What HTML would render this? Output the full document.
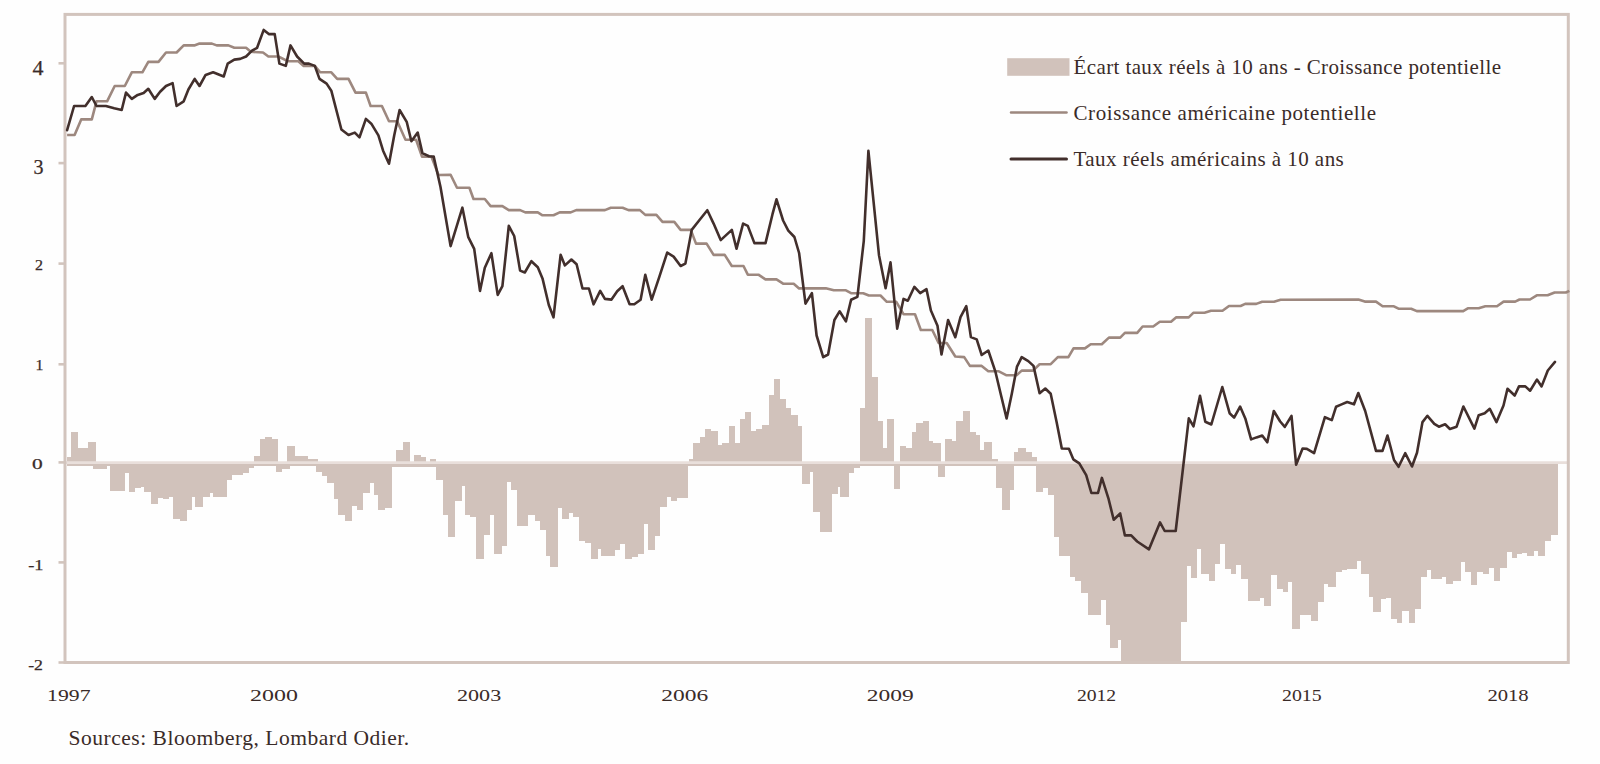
<!DOCTYPE html>
<html><head><meta charset="utf-8">
<style>
html,body{margin:0;padding:0;background:#fefefe;}
body{width:1600px;height:764px;overflow:hidden;position:relative;font-family:"Liberation Serif",serif;color:#3a2b28;}
svg{position:absolute;left:0;top:0;}
.t{position:absolute;white-space:nowrap;line-height:1;}
</style></head><body>
<svg width="1600" height="764" viewBox="0 0 1600 764">
<path d="M66.5 456.7 L71.2 456.7 L71.2 432.2 L78 432.2 L78 447.8 L88.1 447.8 L88.1 441.6 L95.7 441.6 L95.7 461.5 L253.7 461.5 L253.7 456.4 L260 456.4 L260 438.7 L265.1 438.7 L265.1 436.5 L272.3 436.5 L272.3 438.7 L278.3 438.7 L278.3 461.5 L287 461.5 L287 445.9 L294.6 445.9 L294.6 456.4 L307.6 456.4 L307.6 459.3 L318.1 459.3 L318.1 461.5 L396.1 461.5 L396.1 450.2 L402.6 450.2 L402.6 441.6 L409.8 441.6 L409.8 461.5 L414.1 461.5 L414.1 454.5 L420.6 454.5 L420.6 456.7 L425.6 456.7 L425.6 461.5 L430 461.5 L430 459.3 L436.4 459.3 L436.4 461.5 L688.5 461.5 L688.5 459.4 L693 459.4 L693 443.4 L699.6 443.4 L699.6 436.7 L704.5 436.7 L704.5 429 L710.7 429 L710.7 430.5 L717.9 430.5 L717.9 444.5 L722.3 444.5 L722.3 443 L728.5 443 L728.5 425.6 L735.2 425.6 L735.2 443.4 L739.7 443.4 L739.7 418.9 L744.6 418.9 L744.6 412.3 L751.2 412.3 L751.2 431.2 L755.7 431.2 L755.7 429 L761.9 429 L761.9 425.2 L768.6 425.2 L768.6 394.5 L773.5 394.5 L773.5 378.9 L779.7 378.9 L779.7 398.9 L786.4 398.9 L786.4 407.8 L791.3 407.8 L791.3 414.5 L798 414.5 L798 425.6 L802.4 425.6 L802.4 461.5 L859.9 461.5 L859.9 408.3 L864.9 408.3 L864.9 317.5 L871.8 317.5 L871.8 376.7 L877.8 376.7 L877.8 420.7 L882.8 420.7 L882.8 448.1 L887.2 448.1 L887.2 419 L894.2 419 L894.2 461.5 L900.2 461.5 L900.2 445.6 L905.9 445.6 L905.9 448.1 L911.6 448.1 L911.6 431.9 L915.8 431.9 L915.8 423.2 L923.3 423.2 L923.3 420.7 L929 420.7 L929 441.1 L933.4 441.1 L933.4 443.4 L940.6 443.4 L940.6 461.5 L944.5 461.5 L944.5 438.5 L952.1 438.5 L952.1 440.5 L956.4 440.5 L956.4 420.7 L963.1 420.7 L963.1 410.7 L969.8 410.7 L969.8 432.4 L975.5 432.4 L975.5 434.9 L980 434.9 L980 449.9 L984.2 449.9 L984.2 441.6 L992.4 441.6 L992.4 459.4 L998 459.4 L998 461.5 L1013.5 461.5 L1013.5 451.5 L1018.2 451.5 L1018.2 448.2 L1025.5 448.2 L1025.5 451.5 L1031.8 451.5 L1031.8 456.8 L1037.1 456.8 L1037.1 461.5 L1558.3 461.5 L1558.3 534.5 L1551.4 534.5 L1551.4 541 L1544.6 541 L1544.6 556.1 L1537.7 556.1 L1537.7 550.8 L1533.8 550.8 L1533.8 556.1 L1526.9 556.1 L1526.9 552.8 L1522 552.8 L1522 554.1 L1516.7 554.1 L1516.7 558.1 L1511.6 558.1 L1511.6 552.2 L1507.3 552.2 L1507.3 567.9 L1500.4 567.9 L1500.4 580.6 L1493.5 580.6 L1493.5 567.9 L1488.6 567.9 L1488.6 573.8 L1482.7 573.8 L1482.7 572.4 L1477.4 572.4 L1477.4 584.6 L1471 584.6 L1471 571.8 L1465.1 571.8 L1465.1 562 L1460.5 562 L1460.5 580.6 L1453.3 580.6 L1453.3 583.6 L1446.4 583.6 L1446.4 576.7 L1441.5 576.7 L1441.5 578.7 L1431.1 578.7 L1431.1 569.8 L1426.8 569.8 L1426.8 576.7 L1420.5 576.7 L1420.5 609.2 L1415.3 609.2 L1415.3 622.9 L1408.6 622.9 L1408.6 610.5 L1402.1 610.5 L1402.1 622.9 L1396.6 622.9 L1396.6 619.2 L1391.2 619.2 L1391.2 598 L1386.2 598 L1386.2 598.8 L1380.5 598.8 L1380.5 611.7 L1373 611.7 L1373 596.8 L1368.8 596.8 L1368.8 574.4 L1360.6 574.4 L1360.6 560.7 L1356.8 560.7 L1356.8 568.9 L1346.9 568.9 L1346.9 569.9 L1341.9 569.9 L1341.9 571.9 L1335.7 571.9 L1335.7 586.8 L1328.2 586.8 L1328.2 584.4 L1324 584.4 L1324 601.8 L1317.5 601.8 L1317.5 621.2 L1310.8 621.2 L1310.8 614.7 L1299.6 614.7 L1299.6 629.1 L1292.2 629.1 L1292.2 581.9 L1287.7 581.9 L1287.7 592.3 L1282.7 592.3 L1282.7 589.3 L1277.2 589.3 L1277.2 574.9 L1271 574.9 L1271 605.5 L1264.3 605.5 L1264.3 598 L1259.8 598 L1259.8 600.5 L1247.9 600.5 L1247.9 579.4 L1241.2 579.4 L1241.2 564.5 L1236.2 564.5 L1236.2 573.9 L1231.2 573.9 L1231.2 569.4 L1225 569.4 L1225 543.8 L1219.6 543.8 L1219.6 563.8 L1214.6 563.8 L1214.6 580.9 L1208.6 580.9 L1208.6 574 L1200.9 574 L1200.9 549.3 L1197 549.3 L1197 578.1 L1190.7 578.1 L1190.7 565.8 L1187.1 565.8 L1187.1 622.1 L1181.1 622.1 L1181.1 662 L1120.7 662 L1120.7 640 L1117.9 640 L1117.9 648.2 L1110.2 648.2 L1110.2 624.8 L1105.5 624.8 L1105.5 600.1 L1101.4 600.1 L1101.4 615.2 L1087.7 615.2 L1087.7 593.2 L1080.8 593.2 L1080.8 580.9 L1075.3 580.9 L1075.3 576.8 L1069.8 576.8 L1069.8 556.2 L1058.8 556.2 L1058.8 536.9 L1054.3 536.9 L1054.3 494.5 L1048.1 494.5 L1048.1 488.2 L1043.4 488.2 L1043.4 491.8 L1036 491.8 L1036 465.5 L1014 465.5 L1014 489.7 L1009.8 489.7 L1009.8 509.6 L1002 509.6 L1002 487.6 L995.7 487.6 L995.7 465.5 L944.9 465.5 L944.9 476.5 L938 476.5 L938 466 L900.2 466 L900.2 489.1 L894.2 489.1 L894.2 466 L859.9 466 L859.9 468 L853.7 468 L853.7 473 L848.7 473 L848.7 496.6 L839.5 496.6 L839.5 486.6 L838.4 486.6 L838.4 493.5 L831.8 493.5 L831.8 532.4 L819.8 532.4 L819.8 512.4 L813.1 512.4 L813.1 472.3 L809.5 472.3 L809.5 483.5 L802.4 483.5 L802.4 466 L688.3 466 L688.3 498.3 L677.1 498.3 L677.1 500.6 L670.6 500.6 L670.6 497.1 L666.5 497.1 L666.5 507.1 L659.5 507.1 L659.5 535.9 L655.3 535.9 L655.3 549.5 L648 549.5 L648 524.2 L643.6 524.2 L643.6 554.2 L637.7 554.2 L637.7 556.6 L631.8 556.6 L631.8 558.9 L625.3 558.9 L625.3 543.6 L619.7 543.6 L619.7 550.1 L615 550.1 L615 556.3 L600.8 556.3 L600.8 549.3 L597.7 549.3 L597.7 558.7 L590.6 558.7 L590.6 543 L585.1 543 L585.1 541.1 L578.8 541.1 L578.8 517.1 L572.5 517.1 L572.5 513.1 L568.6 513.1 L568.6 518.6 L561.5 518.6 L561.5 508.4 L557.6 508.4 L557.6 567.3 L549.8 567.3 L549.8 555.5 L545.5 555.5 L545.5 530.4 L539.6 530.4 L539.6 521 L534.8 521 L534.8 514.7 L527.8 514.7 L527.8 525.7 L516.8 525.7 L516.8 490.3 L510.5 490.3 L510.5 481.7 L506.6 481.7 L506.6 546.1 L501.8 546.1 L501.8 554 L494 554 L494 514.7 L490.1 514.7 L490.1 535.1 L483.8 535.1 L483.8 558.7 L475.9 558.7 L475.9 517.1 L470.4 517.1 L470.4 514.7 L464.9 514.7 L464.9 486.4 L461.8 486.4 L461.8 501.3 L454.7 501.3 L454.7 536.7 L447.9 536.7 L447.9 515 L442.9 515 L442.9 480.4 L436.4 480.4 L436.4 466.8 L391.5 466.8 L391.5 507.8 L385.3 507.8 L385.3 510 L378.1 510 L378.1 494.8 L374.2 494.8 L374.2 483.3 L370.2 483.3 L370.2 492.7 L363.3 492.7 L363.3 510 L356.5 510 L356.5 506.4 L352.2 506.4 L352.2 520.8 L345 520.8 L345 515 L338.2 515 L338.2 499.2 L333.5 499.2 L333.5 483.3 L327 483.3 L327 476.1 L322 476.1 L322 471.8 L315.5 471.8 L315.5 466 L289.6 466 L289.6 468.9 L281.6 468.9 L281.6 471.8 L275.9 471.8 L275.9 466 L253.7 466 L253.7 467.5 L249.3 467.5 L249.3 473.2 L242.9 473.2 L242.9 474.7 L232 474.7 L232 479.7 L227 479.7 L227 497 L213.3 497 L213.3 493.4 L209.8 493.4 L209.8 497 L202.6 497 L202.6 507.4 L195.3 507.4 L195.3 497 L191.8 497 L191.8 510 L186.7 510 L186.7 521.2 L179.5 521.2 L179.5 518.6 L173 518.6 L173 497 L169.4 497 L169.4 499.2 L162.5 499.2 L162.5 498.4 L157.9 498.4 L157.9 503.5 L151 503.5 L151 492 L144.2 492 L144.2 487 L141.4 487 L141.4 488.4 L134.9 488.4 L134.9 492 L128.8 492 L128.8 472.5 L124.8 472.5 L124.8 490.5 L110.4 490.5 L110.4 466 L106.8 466 L106.8 469.3 L93.1 469.3 L93.1 466 L66.5 466 Z" fill="#d1c2bb" shape-rendering="crispEdges"/>
<line x1="66" y1="462.6" x2="1567" y2="462.6" stroke="#e9dfdb" stroke-width="2.6"/>
<rect x="65" y="14.4" width="1503.3" height="648.1" fill="none" stroke="#d2c4bd" stroke-width="3"/>
<line x1="58.5" y1="63.3" x2="65" y2="63.3" stroke="#d2c4bd" stroke-width="2.6"/>
<line x1="58.5" y1="163.1" x2="65" y2="163.1" stroke="#d2c4bd" stroke-width="2.6"/>
<line x1="58.5" y1="263.6" x2="65" y2="263.6" stroke="#d2c4bd" stroke-width="2.6"/>
<line x1="58.5" y1="364.3" x2="65" y2="364.3" stroke="#d2c4bd" stroke-width="2.6"/>
<line x1="58.5" y1="462.4" x2="65" y2="462.4" stroke="#d2c4bd" stroke-width="2.6"/>
<line x1="58.5" y1="562.4" x2="65" y2="562.4" stroke="#d2c4bd" stroke-width="2.6"/>
<line x1="58.5" y1="662.5" x2="65" y2="662.5" stroke="#d2c4bd" stroke-width="2.6"/>
<path d="M67.1 135 L74.6 135 L81.2 119.4 L91.8 119.4 L96.5 101.3 L107.1 101.3 L114.7 86 L124.8 86 L131.8 72.3 L142.4 72.3 L148.3 61.9 L158.5 61.9 L166 52.5 L176.6 52.5 L183.7 45.4 L194.3 45.4 L199.5 43.6 L211.9 43.6 L216.7 45.4 L228.4 45.4 L234.3 47.8 L246.1 47.8 L250.8 51.8 L263 52.5 L268.4 56.5 L278.3 56.5 L287.7 61.2 L298.3 61.2 L303.7 65.9 L314.8 65.9 L320.2 72.3 L331.3 72.3 L337.2 78.9 L348.5 78.9 L355.5 92.6 L365.9 92.6 L370.6 106 L381.9 106 L389 121.3 L397.2 121.3 L405.5 139.7 L416.1 139.7 L422 156.6 L431.4 156.6 L438.5 175 L450.6 174.7 L457 187.7 L469.4 187.7 L473.5 199 L484.8 199 L490.6 206.1 L502.4 206.1 L508.8 210.1 L520.1 210.1 L525.3 212.4 L537.8 212.4 L542.5 215.3 L553.5 215.3 L559.7 212.4 L570.7 212.4 L576.2 210.1 L604.9 210.1 L610.8 207.7 L622.6 207.7 L628.5 210.1 L639.9 210.1 L645.3 214.9 L656.4 214.9 L662.5 221.9 L674.3 221.9 L680.6 229.9 L690.8 229.9 L696 243.6 L706.6 243.6 L713.6 254.9 L724.7 254.9 L731.8 266 L743.5 266 L747.8 274.7 L758.4 274.7 L765.5 279.4 L776.5 279.4 L783.1 283.7 L793.7 283.7 L799.1 288.4 L825.8 288.3 L833.8 290.3 L845.9 290.3 L851.1 293.2 L863.2 293.2 L868.9 295.5 L880.5 295.5 L886.8 301.8 L896.3 301.8 L903.5 314.2 L915 314.2 L920.8 330 L932.3 330 L938.6 343 L946.7 343 L955.3 356.5 L964.2 357.1 L969.9 365.9 L981.7 365.9 L988.3 371.3 L998.9 371.3 L1006.6 375.3 L1016.5 375.3 L1021.7 370.6 L1033 370.6 L1039.6 364.2 L1050.7 364.2 L1057.8 357.1 L1068.4 357.1 L1073.5 348.4 L1084.9 348.4 L1090.7 344.2 L1101.8 344.2 L1108.9 337.6 L1120.2 337.6 L1124.9 332.9 L1137.2 332.9 L1142.6 326.5 L1153.2 326.5 L1159.8 321.7 L1171 321.7 L1176 317.4 L1188.7 317.4 L1193.3 312.8 L1204.5 312.8 L1211 310.8 L1222.5 310.8 L1229 306 L1240.6 306 L1245.2 303.9 L1256.3 303.9 L1262.2 301.7 L1274 301.7 L1280.6 299.7 L1358.4 299.5 L1364.8 301.6 L1376 301.6 L1382.6 306.3 L1393.9 306.3 L1398.5 308.7 L1411.2 308.7 L1416.8 311.1 L1463.2 311.1 L1467.8 308.3 L1478.7 308.3 L1485.3 306.3 L1497 306.3 L1503.6 301.6 L1515.2 301.6 L1519.5 299.5 L1530 299.5 L1536.8 295.3 L1547.6 295.3 L1554.6 292.5 L1565.9 292.5 L1569.4 290.8" fill="none" stroke="#9d887f" stroke-width="2.6" stroke-linejoin="round"/>
<path d="M67.1 130.2 L74.1 106 L85.4 106 L91.8 97 L96.5 106 L105.9 106 L114.2 108.3 L121.7 110 L126 92.6 L131.8 98.9 L137.7 94.9 L143.6 93 L148.3 88.8 L154.7 98.9 L160.1 91.8 L166 86 L172.6 83.1 L176.6 106 L183.7 101.3 L188.4 89.5 L194.7 78.9 L199.5 86 L205.6 74.9 L213.1 72.3 L223.7 76.5 L227.7 63.6 L234.3 59.6 L240.2 58.9 L246.1 56.5 L252 50.6 L257.1 47.8 L263.7 29.9 L268.8 34.1 L274.7 34.1 L279.4 63.6 L285.8 65.9 L290.5 45.4 L297.1 56.5 L304.2 63.6 L308.9 63.6 L314.8 65.9 L319.5 78.9 L326.6 83.6 L331.3 90.7 L341.4 129.5 L348.5 135 L354.8 132.6 L359.5 137.3 L365.9 118.9 L371.3 123.7 L378.4 135.4 L383.1 150.7 L389 163.7 L394.2 135.4 L399.6 110 L406.7 121.8 L411.4 141.3 L417.7 132.6 L422.4 153.1 L429 156.2 L433.7 156.6 L440.5 187 L450.6 246.1 L462.4 207.7 L468.3 237.2 L474.2 248.9 L480 290.9 L484.8 267.8 L491.4 253.2 L497.7 294.9 L502.4 286.2 L508.8 225.9 L514.2 236 L520.1 270.6 L524.8 272.5 L531.4 261.2 L537.8 267.3 L542.5 278.4 L548.8 305 L553.5 317.3 L560.6 254.8 L564.9 265.4 L571.4 259.5 L576.6 264.3 L582.5 288.5 L588.9 288.5 L593.6 304.3 L600.2 290.9 L604.9 298.9 L611.5 299.6 L617.2 291.3 L622.6 286.2 L629.6 304.3 L634.3 304.3 L640.6 299.7 L645.3 274.7 L651.7 299.7 L659.4 276.6 L667.2 252.6 L673.6 256.6 L680.6 266 L685.4 263.6 L691.7 229.9 L699.5 220 L707.3 210.2 L713.6 223.6 L720.7 240.1 L731.8 229.9 L736.5 248.8 L743.1 223.6 L747.8 225.9 L754.4 243.1 L765.5 243.1 L772.5 214.2 L776.5 199.3 L783.1 220.5 L788.3 230.6 L794.4 237 L799.1 253 L805.5 303.7 L811.9 293.1 L816.6 335.5 L823.2 357.2 L828.1 354.5 L834.4 320 L839.6 311.3 L845.9 321.4 L851.1 299.8 L857.4 296.9 L863.8 240.8 L868.4 150.9 L879 255.2 L885.6 288.3 L890.5 262.4 L897.2 328.6 L903.5 298.9 L907.8 300.7 L914.4 286.8 L920.2 293.2 L926.5 289.2 L930.9 310.5 L937.5 325.7 L941.5 354.5 L948.1 320 L955.3 337.2 L960.5 317.1 L966.3 306.2 L970.9 337.1 L976.7 339.4 L981.7 355 L988.3 350.5 L995.3 371.3 L1001.2 396 L1006.6 418.4 L1011.8 393.7 L1017 366.6 L1021.7 357.1 L1028.3 361.1 L1033.5 365.9 L1039.6 393.2 L1045.3 388.5 L1050.7 393.7 L1056.6 421.9 L1061.8 448.5 L1068.9 448.7 L1073.3 459.3 L1079.3 463.3 L1086.2 475.2 L1091.4 493 L1098 493 L1101.9 477.9 L1108.4 498.3 L1113.7 519.7 L1120.2 513.5 L1124.9 535.4 L1131.2 535.4 L1137.2 541.5 L1149 549.3 L1160 522.4 L1164.7 531 L1175.7 531 L1188.8 418.4 L1193.5 426.3 L1200 395.7 L1205.3 421.8 L1211.3 424.5 L1222.3 387 L1229.6 413.2 L1234.1 417.6 L1240.1 406.6 L1245.3 418.4 L1251.1 439.4 L1256.5 437.4 L1262.2 435.5 L1267.3 442.3 L1273.8 411 L1280.2 421.5 L1284.8 426.9 L1291.5 415.8 L1296.1 464.7 L1302.6 448.5 L1306.9 448.9 L1314.1 453.2 L1324.9 417.2 L1331.8 420.1 L1336.1 406.7 L1341 404.6 L1347.2 402 L1354 404.3 L1358.3 393 L1365.2 411 L1376 450.9 L1382.5 450.9 L1387.5 435.5 L1394 460 L1398.6 466.8 L1405.2 453.2 L1412 466.5 L1417 452.8 L1422.5 422.1 L1427.4 415.8 L1434.3 423.8 L1438.9 426.7 L1445.1 424.3 L1449.9 429 L1456.6 426.7 L1463.4 406.5 L1474.4 428.6 L1478.7 415.2 L1484.7 413.2 L1489.8 408.8 L1496.5 422.1 L1503.5 405.5 L1507.5 388.7 L1514.7 395.5 L1519 386.4 L1525.3 386.4 L1530.1 390.7 L1536.9 379.6 L1541.6 386.4 L1547.8 370.5 L1555 361.9" fill="none" stroke="#422f2c" stroke-width="2.6" stroke-linejoin="round" stroke-linecap="round"/>
<rect x="1007.2" y="58.2" width="62.3" height="17.6" fill="#d1c2bb"/>
<line x1="1011" y1="112.6" x2="1066.5" y2="112.6" stroke="#9d887f" stroke-width="2.5" stroke-linecap="round"/>
<line x1="1011" y1="159.1" x2="1066.5" y2="159.1" stroke="#422f2c" stroke-width="3" stroke-linecap="round"/>
<text x="32.5" y="74.5" font-family="Liberation Serif" font-size="20" textLength="11" lengthAdjust="spacingAndGlyphs" fill="#3a2b28" stroke="#3a2b28" stroke-width="0.25">4</text>
<text x="43.6" y="173.8" font-family="Liberation Serif" font-size="20" text-anchor="end" fill="#3a2b28" stroke="#3a2b28" stroke-width="0.25">3</text>
<text x="35" y="270" font-family="Liberation Serif" font-size="15.5" textLength="8" lengthAdjust="spacingAndGlyphs" fill="#3a2b28" stroke="#3a2b28" stroke-width="0.25">2</text>
<text x="35.6" y="369.9" font-family="Liberation Serif" font-size="15.5" textLength="7.9" lengthAdjust="spacingAndGlyphs" fill="#3a2b28" stroke="#3a2b28" stroke-width="0.25">1</text>
<text x="32.1" y="469.3" font-family="Liberation Serif" font-size="15.5" textLength="10.7" lengthAdjust="spacingAndGlyphs" fill="#3a2b28" stroke="#3a2b28" stroke-width="0.25">0</text>
<text x="28.2" y="569.7" font-family="Liberation Serif" font-size="15.5" textLength="15.3" lengthAdjust="spacingAndGlyphs" fill="#3a2b28" stroke="#3a2b28" stroke-width="0.25">-1</text>
<text x="28.2" y="669.7" font-family="Liberation Serif" font-size="15.5" textLength="14.8" lengthAdjust="spacingAndGlyphs" fill="#3a2b28" stroke="#3a2b28" stroke-width="0.25">-2</text>
<text x="47.1" y="700.7" font-family="Liberation Serif" font-size="16" textLength="43.4" lengthAdjust="spacingAndGlyphs" fill="#3a2b28">1997</text>
<text x="250" y="700.7" font-family="Liberation Serif" font-size="16" textLength="47.9" lengthAdjust="spacingAndGlyphs" fill="#3a2b28">2000</text>
<text x="457" y="700.7" font-family="Liberation Serif" font-size="16" textLength="44.2" lengthAdjust="spacingAndGlyphs" fill="#3a2b28">2003</text>
<text x="661.3" y="700.7" font-family="Liberation Serif" font-size="16" textLength="46.9" lengthAdjust="spacingAndGlyphs" fill="#3a2b28">2006</text>
<text x="866.8" y="700.7" font-family="Liberation Serif" font-size="16" textLength="46.9" lengthAdjust="spacingAndGlyphs" fill="#3a2b28">2009</text>
<text x="1076.9" y="700.7" font-family="Liberation Serif" font-size="16" textLength="39.3" lengthAdjust="spacingAndGlyphs" fill="#3a2b28">2012</text>
<text x="1282" y="700.7" font-family="Liberation Serif" font-size="16" textLength="39.7" lengthAdjust="spacingAndGlyphs" fill="#3a2b28">2015</text>
<text x="1487.4" y="700.7" font-family="Liberation Serif" font-size="16" textLength="41.3" lengthAdjust="spacingAndGlyphs" fill="#3a2b28">2018</text>
<text x="1073.5" y="73.8" font-family="Liberation Serif" font-size="21" textLength="427.5" lengthAdjust="spacing" fill="#3a2b28">Écart taux réels à 10 ans - Croissance potentielle</text>
<text x="1073.5" y="119.5" font-family="Liberation Serif" font-size="21" textLength="302.5" lengthAdjust="spacing" fill="#3a2b28">Croissance américaine potentielle</text>
<text x="1073.5" y="165.9" font-family="Liberation Serif" font-size="21" textLength="270.3" lengthAdjust="spacing" fill="#3a2b28">Taux réels américains à 10 ans</text>
<text x="68.6" y="744.9" font-family="Liberation Serif" font-size="21.5" textLength="340.6" lengthAdjust="spacing" fill="#3a2b28">Sources: Bloomberg, Lombard Odier.</text>
</svg>
</body></html>
